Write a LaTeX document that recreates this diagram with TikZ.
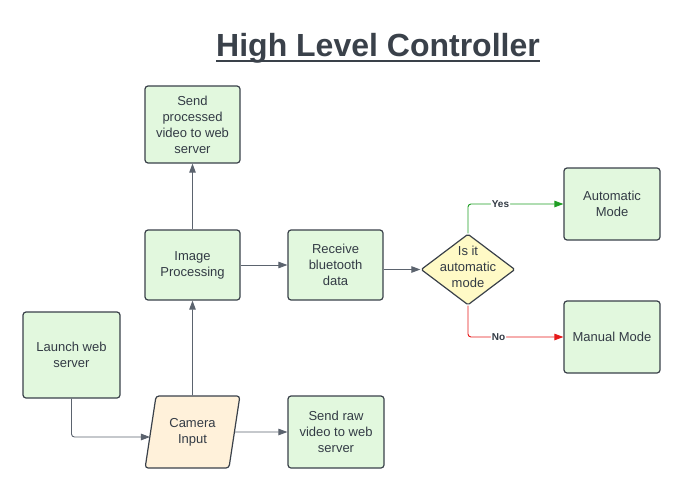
\documentclass[tikz,border=0pt]{standalone}
\usepackage{fontspec}
\setmainfont{Liberation Sans}
\usetikzlibrary{shapes.geometric,arrows.meta}

\definecolor{edgegray}{HTML}{3A414A}
\definecolor{textgray}{HTML}{333B45}
\definecolor{linegray}{HTML}{5B636E}
\definecolor{boxgreen}{HTML}{E2F8DE}
\definecolor{camorange}{HTML}{FFF1DA}
\definecolor{decyellow}{HTML}{FFFAC6}
\definecolor{yesgreen}{HTML}{1F9E24}
\definecolor{nored}{HTML}{E61919}

\tikzset{
	box/.style={draw=edgegray, fill=boxgreen, line width=1.2pt, rounded corners=3pt,
		minimum width=95pt, minimum height=72pt, align=center, text=textgray,
		font=\fontsize{13}{16}\selectfont},
	flow/.style={draw=linegray, line width=0.9pt, -{Triangle[length=9pt,width=6.5pt]}},
	branch/.style={font=\bfseries\fontsize{10}{12}\selectfont, text=textgray, fill=white, inner sep=1pt}
}

\begin{document}
\begin{tikzpicture}[x=1pt,y=-1pt]
		\useasboundingbox (0,0) rectangle (684,492);
		
		% title
		\node[anchor=base, inner sep=0pt, text=edgegray, font=\bfseries\fontsize{32}{36}\selectfont] (title) at (378,57) {High Level Controller};
		\draw[edgegray, line width=2.2pt] ([yshift=-4pt]title.base west) -- ([yshift=-4pt]title.base east);
		
		\node[box, minimum height=77pt] (sendproc) at (192.5,124.5) {Send\\processed\\video to web\\server};
		\node[box, minimum height=70pt] (imgproc) at (192.5,265) {Image\\Processing};
		\node[box, minimum height=70pt] (recv) at (335.5,265) {Receive\\bluetooth\\data};
		\node[box, minimum width=96pt] (automode) at (612,204) {Automatic\\Mode};
		\node[box, minimum width=96pt] (manmode) at (612,337) {Manual Mode};
		\node[box, minimum width=97pt, minimum height=86pt] (launch) at (71.5,355) {Launch web\\server};
		\node[box, minimum width=96pt] (rawvid) at (336,432) {Send raw\\video to web\\server};
		
		% camera input
		\node[box, fill=camorange, trapezium, trapezium left angle=76, trapezium right angle=104,
			trapezium stretches=true, minimum width=95pt, minimum height=72pt, inner sep=0pt] (cam) at (192.5,432) {Camera\\Input};
		
		% decision
		\node[draw=edgegray, fill=decyellow, line width=1.2pt, diamond, rounded corners=1.5pt,
			inner sep=0pt, minimum width=94pt, minimum height=71pt] (dec) at (468,269.5) {};
		\node[align=center, text=textgray, font=\fontsize{13}{16}\selectfont] (dectext) at (468,267) {Is it\\automatic\\mode};
		
		% arrows
		\draw[flow] (cam) -- (imgproc);
		\draw[flow] (imgproc) -- (sendproc);
		\draw[flow] (imgproc) -- (recv);
		\draw[flow] (recv.east |- dec.west) -- (dec.west);
		\draw[flow, rounded corners=3pt] (launch.south) |- ([yshift=-5pt]cam.west);
		\draw[flow] (cam.east) -- (rawvid.west);
		
		\draw[flow, draw=yesgreen, rounded corners=3pt] (dec.north) |- (automode.west)
			node[branch, pos=0.67] (yes) {Yes};
		\draw[flow, draw=nored, rounded corners=3pt] (dec.south) |- (manmode.west)
			node[branch, pos=0.66] (no) {No};
	\end{tikzpicture}
\end{document}
